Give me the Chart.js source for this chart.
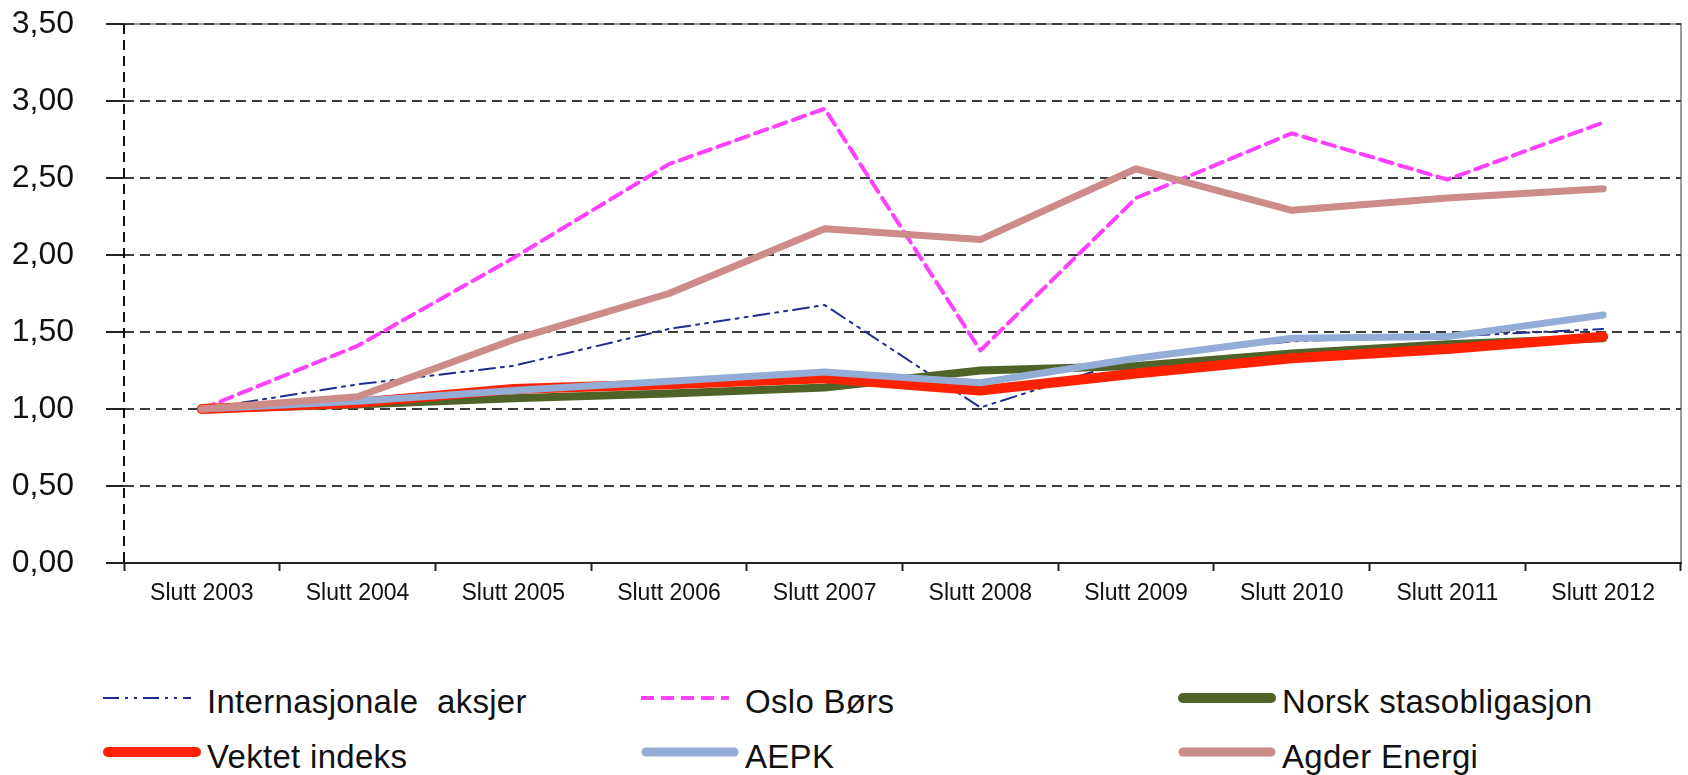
<!DOCTYPE html>
<html>
<head>
<meta charset="utf-8">
<script src="https://cdn.jsdelivr.net/npm/chart.js@4.4.0/dist/chart.umd.min.js"></script>
<style>
  body { margin: 0; background: #fff; width: 1688px; height: 775px; overflow: hidden; position: relative; font-family: "Liberation Sans", Arial, sans-serif; }
  #wrap { position: absolute; left: 0; top: 0; width: 1688px; height: 620px; }
  .leg { position: absolute; height: 32px; }
  .leg svg { position: absolute; left: 0; top: 0; overflow: visible; }
  .leg span { position: absolute; top: 0; font-size: 33px; line-height: 32px; color: #111; white-space: pre; letter-spacing: 0.3px; }
</style>
</head>
<body>
<div id="wrap"><canvas id="myChart" width="1688" height="620"></canvas></div>
<div id="legend"></div>
<script>
// data
let labels = ['Slutt 2003','Slutt 2004','Slutt 2005','Slutt 2006','Slutt 2007','Slutt 2008','Slutt 2009','Slutt 2010','Slutt 2011','Slutt 2012'];
let internasjonale = [1.00, 1.16, 1.28, 1.52, 1.675, 1.01, 1.33, 1.44, 1.47, 1.52];
let osloBors = [1.00, 1.41, 1.98, 2.59, 2.95, 1.38, 2.37, 2.79, 2.49, 2.86];
let norskStat = [1.00, 1.03, 1.07, 1.10, 1.14, 1.25, 1.28, 1.36, 1.42, 1.46];
let vektet = [1.00, 1.04, 1.13, 1.16, 1.20, 1.12, 1.23, 1.33, 1.39, 1.47];
let aepk = [1.00, 1.05, 1.12, 1.18, 1.24, 1.17, 1.33, 1.46, 1.47, 1.61];
let agder = [1.00, 1.08, 1.45, 1.75, 2.17, 2.10, 2.56, 2.29, 2.37, 2.43];
let yTicks = [0, 0.5, 1, 1.5, 2, 2.5, 3, 3.5];

let series = [
  {label: 'Internasjonale aksjer', data: internasjonale, color: '#1f2d8f', width: 2, dash: [16,6,3,6,3,6], order: 6},
  {label: 'Oslo Børs', data: osloBors, color: '#ff40ff', width: 4, dash: [13,7], order: 5},
  {label: 'Norsk stasobligasjon', data: norskStat, color: '#4f6228', width: 8, dash: [], order: 4},
  {label: 'Vektet indeks', data: vektet, color: '#ff2200', width: 10, dash: [], order: 3},
  {label: 'AEPK', data: aepk, color: '#93add6', width: 7, dash: [], order: 2},
  {label: 'Agder Energi', data: agder, color: '#cc8c8a', width: 7, dash: [], order: 1}
];

// frame: dashed left axis, grey top and right edges
const framePlugin = {
  id: 'frame',
  beforeDraw(chart) {
    let a = chart.chartArea;
    let c = chart.ctx;
    c.save();
    c.lineWidth = 2;
    c.strokeStyle = '#9a9a9a';
    c.beginPath();
    c.moveTo(a.left, a.top);
    c.lineTo(a.right, a.top);
    c.lineTo(a.right, a.bottom);
    c.stroke();
    c.restore();
  },
  afterDraw(chart) {
    let a = chart.chartArea;
    let c = chart.ctx;
    c.save();
    c.lineWidth = 2;
    c.strokeStyle = '#111';
    c.setLineDash([10,6]);
    c.beginPath();
    c.moveTo(a.left, a.top);
    c.lineTo(a.left, a.bottom);
    c.stroke();
    c.restore();
  }
};

var ctx = document.getElementById('myChart').getContext('2d');
var myChart = new Chart(ctx, {
  type: 'line',
  data: {
    labels: labels,
    datasets: series.map(s => ({
      label: s.label,
      data: s.data,
      borderColor: s.color,
      backgroundColor: s.color,
      borderWidth: s.width,
      borderDash: s.dash,
      borderCapStyle: 'round',
      borderJoinStyle: 'round',
      pointRadius: 0,
      tension: 0,
      fill: false,
      order: s.order
    }))
  },
  options: {
    responsive: false,
    animation: false,
    devicePixelRatio: 1,
    layout: { padding: { left: 0, right: 7, top: 24, bottom: 0 } },
    plugins: { legend: { display: false }, tooltip: { enabled: false } },
    scales: {
      x: {
        offset: true,
        grid: { offset: true, drawOnChartArea: false, drawTicks: true, tickLength: 8, tickWidth: 2, tickColor: '#222' },
        border: { display: true, color: '#222', width: 2 },
        ticks: { color: '#111', font: { family: '"Liberation Sans", Arial', size: 23 }, padding: 9, maxRotation: 0, autoSkip: false },
        afterFit: s => { s.height = 57; s.paddingLeft = 0; s.paddingRight = 0; }
      },
      y: {
        min: 0,
        max: 3.5,
        afterBuildTicks: s => { s.ticks = yTicks.map(v => ({value: v})); },
        grid: { color: '#3c3c3c', lineWidth: 2, tickLength: 18, tickWidth: 2, tickColor: '#222', tickBorderDash: [] },
        border: { display: false, dash: [10,6] },
        ticks: {
          color: '#111',
          font: { family: '"Liberation Sans", Arial', size: 32 },
          padding: 32,
          callback: v => v.toFixed(2).replace('.', ',')
        },
        afterFit: s => { s.width = 124; s.paddingTop = 0; s.paddingBottom = 0; }
      }
    }
  },
  plugins: [framePlugin]
});

// legend
let legPos = [
  {x: 103, y: 686}, {x: 641, y: 686}, {x: 1178, y: 686},
  {x: 103, y: 741}, {x: 641, y: 741}, {x: 1178, y: 741}
];
let legend = document.getElementById('legend');
for (let i = 0; i < series.length; i++) {
  let s = series[i];
  let p = legPos[i];
  let lineY = i < 3 ? 12 : 11;
  let d = document.createElement('div');
  d.className = 'leg';
  d.style.left = p.x + 'px';
  d.style.top = p.y + 'px';
  let w = s.width > 4 ? Math.min(s.width + 2, 10) : s.width;
  let x1 = s.width > 4 ? 5 : 0;
  let x2 = s.width > 4 ? 93 : 88;
  let ws = i == 0 ? 'word-spacing:9px;' : '';
  d.innerHTML = '<svg width="100" height="24"><line x1="' + x1 + '" y1="' + lineY + '" x2="' + x2 + '" y2="' + lineY +
    '" stroke="' + s.color + '" stroke-width="' + w + '" stroke-linecap="' + (s.dash.length ? 'butt' : 'round') +
    '" stroke-dasharray="' + s.dash.join(',') + '"/></svg><span style="left:104px;' + ws + '">' + s.label + '</span>';
  legend.appendChild(d);
}
</script>
</body>
</html>
